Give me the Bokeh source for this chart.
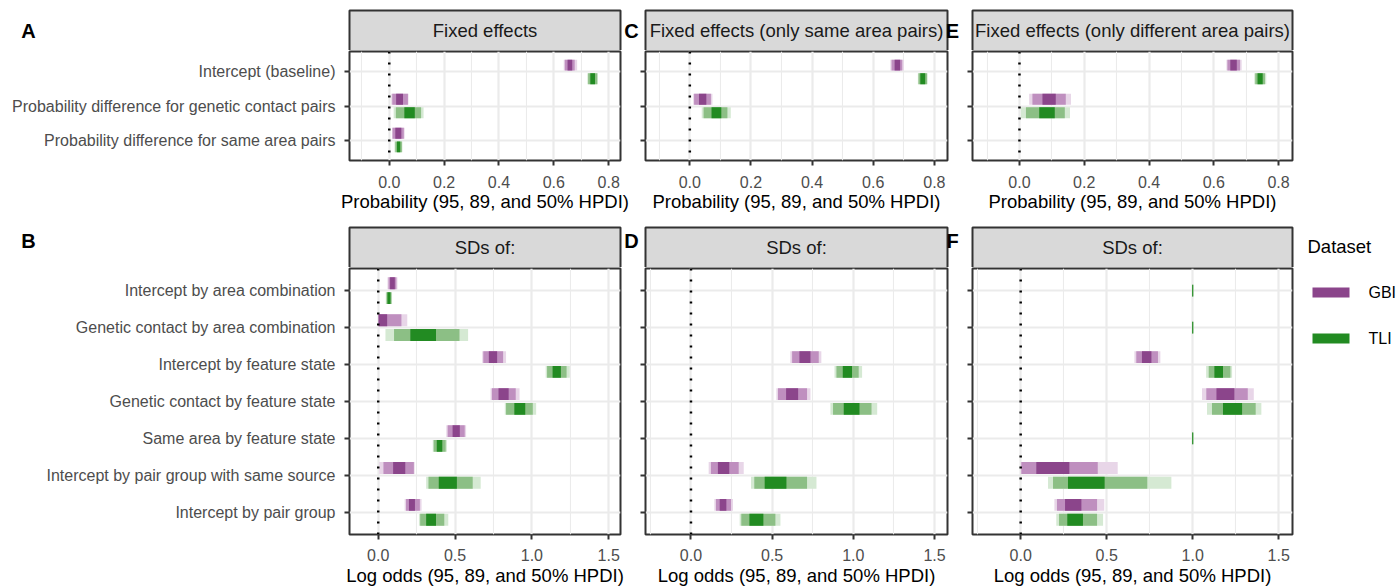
from bokeh.plotting import figure
from bokeh.models import Range1d, FixedTicker, Span, ColumnDataSource, PrintfTickFormatter
from bokeh.layouts import row, column
from bokeh.embed import file_html
from bokeh.resources import INLINE
from bokeh.core.properties import value

FONT = "Liberation Sans"

# ---------------- data ----------------
fixed_cats = ["Intercept (baseline)",
              "Probability difference for genetic contact pairs",
              "Probability difference for same area pairs"]
sd_cats = ["Intercept by area combination",
           "Genetic contact by area combination",
           "Intercept by feature state",
           "Genetic contact by feature state",
           "Same area by feature state",
           "Intercept by pair group with same source",
           "Intercept by pair group"]
series = ["GBI", "TLI"]
strip_top = ["Fixed effects", "Fixed effects (only same area pairs)",
             "Fixed effects (only different area pairs)"]
strip_bottom = ["SDs of:", "SDs of:", "SDs of:"]
letters_top = ["A", "C", "E"]
letters_bottom = ["B", "D", "F"]
xlabel_top = "Probability (95, 89, and 50% HPDI)"
xlabel_bottom = "Log odds (95, 89, and 50% HPDI)"
ticks_top = [0.0, 0.2, 0.4, 0.6, 0.8]
minor_top = [-0.1, 0.1, 0.3, 0.5, 0.7]
ticks_bottom = [0.0, 0.5, 1.0, 1.5]
minor_bottom = [-0.25, 0.25, 0.75, 1.25]

# each entry: (lo95, hi95, lo89, hi89, lo50, hi50); None = not estimated
A_GBI = [(0.636, 0.685, 0.640, 0.676, 0.650, 0.667),
         (0.007, 0.070, 0.011, 0.068, 0.025, 0.050),
         (0.010, 0.056, 0.012, 0.053, 0.022, 0.044)]
A_TLI = [(0.722, 0.761, 0.725, 0.758, 0.733, 0.750),
         (0.016, 0.125, 0.024, 0.116, 0.055, 0.093),
         (0.019, 0.048, 0.022, 0.046, 0.028, 0.040)]
C_GBI = [(0.656, 0.700, 0.660, 0.695, 0.670, 0.688),
         (0.011, 0.074, 0.014, 0.069, 0.030, 0.054),
         None]
C_TLI = [(0.746, 0.778, 0.748, 0.776, 0.754, 0.770),
         (0.039, 0.134, 0.045, 0.123, 0.071, 0.103),
         None]
E_GBI = [(0.639, 0.686, 0.642, 0.681, 0.651, 0.671),
         (0.030, 0.159, 0.040, 0.143, 0.071, 0.112),
         None]
E_TLI = [(0.725, 0.762, 0.728, 0.758, 0.735, 0.751),
         (0.004, 0.156, 0.020, 0.140, 0.061, 0.109),
         None]

B_GBI = [(0.060, 0.125, 0.067, 0.118, 0.077, 0.108),
         (0.002, 0.189, 0.002, 0.151, 0.002, 0.058),
         (0.677, 0.832, 0.684, 0.813, 0.720, 0.774),
         (0.731, 0.920, 0.740, 0.895, 0.783, 0.849),
         (0.443, 0.572, 0.452, 0.563, 0.484, 0.531),
         (0.006, 0.237, 0.034, 0.232, 0.097, 0.176),
         (0.172, 0.282, 0.181, 0.271, 0.200, 0.239)]
B_TLI = [(0.049, 0.090, 0.054, 0.086, 0.060, 0.080),
         (0.047, 0.585, 0.103, 0.529, 0.209, 0.376),
         (1.090, 1.247, 1.099, 1.226, 1.135, 1.189),
         (0.824, 1.028, 0.832, 1.006, 0.886, 0.957),
         (0.355, 0.447, 0.361, 0.439, 0.381, 0.417),
         (0.312, 0.667, 0.327, 0.615, 0.394, 0.512),
         (0.265, 0.456, 0.273, 0.430, 0.312, 0.376)]
D_GBI = [None, None,
         (0.612, 0.803, 0.623, 0.787, 0.668, 0.736),
         (0.526, 0.736, 0.536, 0.715, 0.586, 0.660),
         None,
         (0.109, 0.325, 0.123, 0.294, 0.166, 0.236),
         (0.144, 0.259, 0.154, 0.247, 0.177, 0.218)]
D_TLI = [None, None,
         (0.884, 1.054, 0.896, 1.033, 0.935, 0.992),
         (0.859, 1.147, 0.875, 1.112, 0.941, 1.038),
         None,
         (0.370, 0.773, 0.390, 0.715, 0.454, 0.588),
         (0.300, 0.551, 0.310, 0.520, 0.360, 0.446)]
F_GBI = [None, None,
         (0.661, 0.812, 0.672, 0.798, 0.705, 0.760),
         (1.054, 1.355, 1.079, 1.320, 1.138, 1.242),
         None,
         (0.000, 0.564, 0.004, 0.448, 0.091, 0.283),
         (0.196, 0.486, 0.211, 0.444, 0.258, 0.353)]
F_TLI = [(0.997, 1.003, 0.997, 1.003, 0.997, 1.003),
         (0.997, 1.003, 0.997, 1.003, 0.997, 1.003),
         (1.078, 1.229, 1.093, 1.219, 1.126, 1.176),
         (1.083, 1.399, 1.112, 1.366, 1.176, 1.287),
         (0.997, 1.003, 0.997, 1.003, 0.997, 1.003),
         (0.159, 0.876, 0.188, 0.736, 0.275, 0.488),
         (0.207, 0.479, 0.223, 0.444, 0.271, 0.362)]

# ---------------- styling ----------------
GBI_COLORS = ["#E8D6E8", "#BF8FBF", "#8B458B"]   # 95, 89, 50 %
TLI_COLORS = ["#D5E9D3", "#8CBF85", "#228B22"]
GRID = "#EBEBEB"
DARK = "#333333"

# geometry of the three columns (pixels)
COL_W = [631, 321, 346]
COL_LEFT = [349, 14, 20]
COL_RIGHT = [11, 5, 6]
FRAME_L = [349, 645, 972]
FRAME_R = [620, 947, 1292]


def add_bars(p, g, t):
    for data, other, colors, off in ((g, t, GBI_COLORS, -0.2), (t, g, TLI_COLORS, 0.2)):
        for k in range(3):
            ys, lo, hi = [], [], []
            for i, v in enumerate(data):
                if v is None:
                    continue
                o = off if other[i] is not None else 0.0
                ys.append(i + 1 + o)
                lo.append(v[2 * k])
                hi.append(v[2 * k + 1])
            src = ColumnDataSource(dict(y=ys, left=lo, right=hi))
            p.hbar(y="y", left="left", right="right", height=0.32, source=src,
                   fill_color=colors[k], line_color=None)


def panel(col, cats, g, t, xr, height, bottom, ticks, minor, xlabel,
          tick_standoff, label_standoff):
    n = len(cats)
    p = figure(width=COL_W[col], height=height, title=None,
               x_range=Range1d(*xr), y_range=Range1d(n + 0.6, 0.4),
               output_backend="svg", toolbar_location=None,
               min_border_left=COL_LEFT[col], min_border_right=COL_RIGHT[col],
               min_border_top=1, min_border_bottom=bottom)
    p.background_fill_color = "white"
    p.border_fill_color = "white"
    p.outline_line_color = DARK
    p.outline_line_width = 2

    xt = FixedTicker(ticks=ticks, minor_ticks=minor)
    yt = FixedTicker(ticks=list(range(1, n + 1)))
    p.xaxis.ticker = xt
    p.yaxis.ticker = yt
    p.xgrid.ticker = xt
    p.ygrid.ticker = yt
    p.xgrid.grid_line_color = GRID
    p.xgrid.grid_line_width = 2.2
    p.xgrid.minor_grid_line_color = GRID
    p.xgrid.minor_grid_line_width = 1.1
    p.ygrid.grid_line_color = GRID
    p.ygrid.grid_line_width = 2.2

    p.xaxis.formatter = PrintfTickFormatter(format="%.1f")
    if col == 0:
        p.yaxis.major_label_overrides = {i + 1: c for i, c in enumerate(cats)}
    else:
        p.yaxis.major_label_overrides = {i + 1: "" for i in range(n)}

    for ax in (p.xaxis[0], p.yaxis[0]):
        ax.axis_line_color = None
        ax.major_tick_in = 0
        ax.major_tick_out = 5
        ax.major_tick_line_color = DARK
        ax.major_tick_line_width = 2
        ax.minor_tick_line_color = None
        ax.major_label_text_font = FONT
        ax.major_label_text_font_size = "16px"
        ax.major_label_text_color = "#4D4D4D"
    p.yaxis.major_label_standoff = 9 if col == 0 else 0
    p.xaxis.major_label_standoff = tick_standoff
    p.xaxis.axis_label = xlabel
    p.xaxis.axis_label_text_font = FONT
    p.xaxis.axis_label_text_font_size = "18.5px"
    p.xaxis.axis_label_text_font_style = "normal"
    p.xaxis.axis_label_text_color = "black"
    p.xaxis.axis_label_standoff = label_standoff

    add_bars(p, g, t)
    p.add_layout(Span(location=0, dimension="height", line_color="black",
                      line_width=2.5, line_dash="2 9"))
    return p


def strip_fig(y0, y1, s_top, titles, letters, letter_y):
    s = figure(width=sum(COL_W), height=y1 - y0, title=None,
               x_range=Range1d(0, sum(COL_W)), y_range=Range1d(y1, y0),
               x_axis_type=None, y_axis_type=None, min_border=0,
               toolbar_location=None, output_backend="svg")
    s.outline_line_color = None
    s.background_fill_color = "white"
    s.border_fill_color = "white"
    s.quad(left=FRAME_L, right=FRAME_R, top=[s_top] * 3, bottom=[y1 + 2] * 3,
           fill_color="#D9D9D9", line_color=DARK, line_width=2)
    cx = [(a + b) / 2 for a, b in zip(FRAME_L, FRAME_R)]
    cy = (s_top + y1) / 2
    s.text(x=cx, y=[cy] * 3, text=titles, text_align="center", text_baseline="middle",
           text_font=value(FONT), text_font_size="18.5px", text_color="#1A1A1A")
    s.text(x=[28, 631, 952], y=[letter_y] * 3, text=letters,
           text_align="center", text_baseline="middle", text_font=value(FONT),
           text_font_size="20px", text_font_style="bold", text_color="black")
    return s


xr_top = [(-0.145, 0.843), (-0.145, 0.843), (-0.145, 0.843)]
xr_bot = [(-0.187, 1.577), (-0.28, 1.58), (-0.28, 1.58)]

pA = panel(0, fixed_cats, A_GBI, A_TLI, xr_top[0], 175, 65, ticks_top, minor_top, xlabel_top, 10, 0)
pC = panel(1, fixed_cats, C_GBI, C_TLI, xr_top[1], 175, 65, ticks_top, minor_top, xlabel_top, 10, 0)
pE = panel(2, fixed_cats, E_GBI, E_TLI, xr_top[2], 175, 65, ticks_top, minor_top, xlabel_top, 10, 0)
pB = panel(0, sd_cats, B_GBI, B_TLI, xr_bot[0], 321, 53, ticks_bottom, minor_bottom, xlabel_bottom, 9, 1)
pD = panel(1, sd_cats, D_GBI, D_TLI, xr_bot[1], 321, 53, ticks_bottom, minor_bottom, xlabel_bottom, 9, 1)
pF = panel(2, sd_cats, F_GBI, F_TLI, xr_bot[2], 321, 53, ticks_bottom, minor_bottom, xlabel_bottom, 9, 1)

s1 = strip_fig(0, 50, 10, strip_top, letters_top, 30)
s2 = strip_fig(225, 267, 227, strip_bottom, letters_bottom, 240)

# legend
lg = figure(width=100, height=588, title=None, x_range=Range1d(1298, 1398),
            y_range=Range1d(588, 0), x_axis_type=None, y_axis_type=None,
            min_border=0, toolbar_location=None, output_backend="svg")
lg.outline_line_color = None
lg.text(x=[1307], y=[246], text=["Dataset"], text_align="left", text_baseline="middle",
        text_font=value(FONT), text_font_size="18.5px", text_color="black")
lg.quad(left=[1312, 1312], right=[1349, 1349], top=[287, 333], bottom=[297, 343],
        fill_color=[GBI_COLORS[2], TLI_COLORS[2]], line_color=None)
lg.text(x=[1368, 1368], y=[292, 338], text=series, text_align="left", text_baseline="middle",
        text_font=value(FONT), text_font_size="16px", text_color="black")

left = column(s1, row(pA, pC, pE), s2, row(pB, pD, pF))
layout = row(left, lg)

open("out.html", "w").write(file_html(layout, INLINE))
